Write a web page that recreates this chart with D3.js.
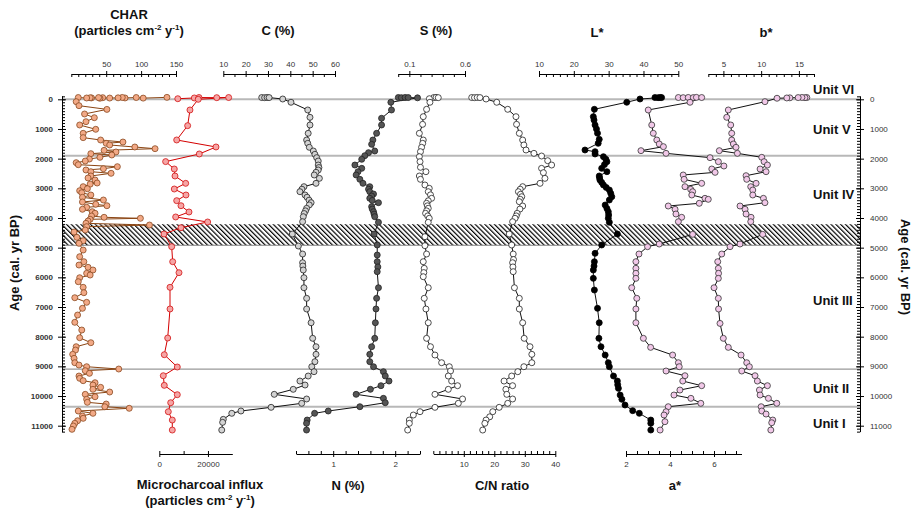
<!DOCTYPE html>
<html lang="en">
<head>
<meta charset="utf-8">
<title>Core proxies vs age</title>
<script src="https://d3js.org/d3.v7.min.js"></script>
<style>
body { margin: 0; background: #fff; }
svg { font-family: "Liberation Sans", Arial, sans-serif; }
.title { font-size: 13px; font-weight: bold; fill: #111; }
.tick text { font-size: 8px; fill: #333; font-family: "Liberation Sans", Arial, sans-serif; }
.unit { font-size: 13px; font-weight: bold; fill: #111; }
</style>
</head>
<body>
<svg width="920" height="519"></svg>
<script>
// [age (cal. yr BP), value]
const charData = [[-65,137],[-40,103],[-60,93],[-45,77],[-62,73],[-50,67],[-42,55],[-55,45],[-35,41],[-58,39],[-48,29],[-52,27],[-44,22],[-60,10],
  [80,7],[215,11],[340,51],[495,19],[620,33],[755,21],[866,12],[1011,35],[1146,17],[1292,17],[1372,42],[1440,74],[1484,50],[1540,55],[1608,91],[1664,120],
  [1720,47],[1775,64],[1832,28],[1877,58],[1956,41],[2013,26],[2080,20],[2136,7],[2204,10],[2271,66],[2339,46],[2383,21],[2440,28],[2494,57],[2585,28],
  [2652,24],[2720,34],[2821,37],[2860,27],[2945,17],[3013,23],[3080,12],[3148,15],[3225,28],[3303,16],[3394,46],[3461,16],[3539,35],[3586,51],[3640,22],
  [3707,16],[3788,30],[3842,34],[3933,29],[3977,47],[4011,99],[4044,27],[4102,24],[4180,21],[4237,112],[4293,22],[4405,20],[4473,4],[4652,8],[4765,17],
  [4854,11],[5080,17],[5305,12],[5473,18],[5585,11],[5662,24],[5753,31],[5865,22],[5922,27],[6013,12],[6147,10],[6336,17],[6518,18],[6687,5],[6842,22],
  [7044,16],[7270,9],[7516,5],[7776,15],[8035,12],[8203,28],[8338,7],[8450,6],[8595,2],[8730,4],[8877,5],[8956,11],[9012,22],[9090,68],[9147,20],
  [9235,26],[9326,11],[9404,12],[9483,17],[9551,34],[9629,31],[9707,42],[9774,31],[9865,55],[9943,20],[10024,34],[10111,22],[10212,23],[10270,50],
  [10360,48],[10414,83],[10505,10],[10583,31],[10674,16],[10752,17],[10833,9],[10920,5],[11010,3],[11122,1]];

const microData = [[-20,7600],[-45,14400],[-60,16300],[-55,23600],[-60,28500],[0,16000],[360,12600],[888,11650],[1371,7150],[1607,23300],[1843,16430],
  [2100,2600],[2349,6160],[2585,6450],[2832,10840],[3023,6160],[3225,10960],[3416,7150],[3586,8910],[3798,12200],[3966,6730],[4135,19870],[4327,8910],
  [4540,1930],[4967,5090],[5473,5500],[5843,8090],[6336,4400],[7067,4400],[8045,3450],[8607,2050],[9022,7400],[9316,1640],[9640,2050],[9955,7400],
  [10225,4680],[10528,3700],[10809,5340],[11146,5340]];

const cData = [[-60,27.2],[-55,28.5],[-62,29.6],[-58,30.5],[-10,36.6],[100,40.3],[360,47.8],[607,48.8],[866,48.8],[1146,48],[1372,47.3],[1484,47.8],
  [1618,48.5],[1742,50.3],[1854,51],[1967,51.8],[2080,52.5],[2215,52.5],[2300,52.8],[2383,52.5],[2460,51.5],[2551,50.7],[2664,53],[2832,51.5],[2945,46.1],
  [3030,45.2],[3114,44.3],[3225,46.6],[3300,47.5],[3400,48.4],[3484,49.3],[3560,48.5],[3674,47.3],[3760,46.8],[3850,46.2],[3956,45.8],[4125,45.5],
  [4540,40.9],[4944,43.6],[5214,45.5],[5507,45.5],[5620,45.6],[5753,45.8],[6013,46.1],[6350,46.1],[6707,47.3],[7067,47.3],[7530,49.3],[8055,50],
  [8338,51.5],[8595,51.5],[8843,51],[9012,49.6],[9180,50.6],[9326,48],[9495,44.3],[9629,46.6],[9774,41.3],[9943,32.8],[10100,47.3],[10246,45.1],
  [10381,31.4],[10505,17.9],[10583,13.8],[10786,10],[10887,9.7],[11146,9.3]];

const nData = [[-60,2.05],[-55,2.1],[-62,2.16],[-58,2.21],[-50,2.36],[100,1.93],[360,1.94],[640,1.78],[866,1.78],[1146,1.70],[1372,1.64],[1517,1.62],
  [1742,1.67],[1798,1.57],[1900,1.51],[2022,1.46],[2215,1.35],[2327,1.46],[2440,1.40],[2551,1.37],[2697,1.43],[2832,1.48],[2945,1.59],[3030,1.57],
  [3114,1.59],[3192,1.65],[3260,1.62],[3337,1.59],[3410,1.63],[3484,1.73],[3619,1.62],[3700,1.63],[3788,1.65],[3870,1.66],[3956,1.67],[4146,1.73],
  [4540,1.66],[4910,1.71],[5248,1.71],[5473,1.71],[5650,1.72],[5810,1.71],[6350,1.73],[6707,1.70],[7067,1.69],[7530,1.68],[8055,1.67],[8338,1.62],
  [8595,1.59],[8843,1.59],[9012,1.65],[9180,1.81],[9326,1.84],[9495,1.90],[9652,1.77],[9774,1.60],[9943,1.37],[10078,1.81],[10225,1.84],[10360,1.43],
  [10505,0.92],[10583,0.70],[10809,0.58],[10920,0.57],[11146,0.57]];

const sData = [[-60,0.32],[-65,0.34],[-55,0.36],[-20,0.28],[100,0.285],[337,0.255],[585,0.225],[843,0.219],[1146,0.19],[1372,0.225],[1484,0.22],
  [1618,0.21],[1765,0.2],[1934,0.19],[2102,0.196],[2292,0.2],[2440,0.249],[2585,0.19],[2697,0.2],[2888,0.24],[3000,0.279],[3114,0.27],[3220,0.29],
  [3337,0.30],[3420,0.27],[3505,0.255],[3590,0.262],[3674,0.27],[3760,0.255],[3842,0.246],[3930,0.265],[4011,0.279],[4146,0.27],[4630,0.24],[4933,0.24],
  [5214,0.255],[5473,0.225],[5696,0.234],[5840,0.23],[5979,0.225],[6350,0.27],[6707,0.234],[7067,0.249],[7530,0.27],[8055,0.255],[8338,0.29],[8618,0.33],
  [8877,0.39],[9012,0.459],[9157,0.47],[9326,0.45],[9495,0.48],[9652,0.533],[9774,0.45],[9943,0.33],[10100,0.578],[10246,0.54],[10381,0.33],
  [10528,0.196],[10640,0.136],[10809,0.1],[10920,0.1],[11146,0.085]];

const cnData = [[-60,12.6],[-55,13.5],[-62,14.4],[-58,15.3],[-10,17.3],[100,20.8],[337,24.4],[585,27.1],[843,27.3],[1146,28.2],[1372,29.3],[1540,29.7],
  [1709,30.4],[1821,33],[1911,35.5],[2069,37.5],[2215,38.8],[2327,35.5],[2473,36.1],[2664,36.6],[2832,35],[2945,29.3],[3030,28.5],[3114,27.9],[3200,28.6],
  [3283,29],[3370,28.5],[3451,28.2],[3596,29.3],[3700,28.4],[3842,27.5],[3930,27.2],[4011,26.8],[4125,26],[4540,24.9],[4910,25.7],[5214,26.2],[5400,26.3],
  [5507,26],[5650,26.1],[5810,26.2],[6350,26.6],[6707,28.2],[7067,28.2],[7530,29.3],[8055,29.8],[8338,31.7],[8595,32.3],[8877,32.3],[9012,29.7],[9180,27.7],
  [9326,25.7],[9495,23.2],[9652,26],[9774,23.8],[9943,24.1],[10100,26],[10246,24.4],[10381,21.6],[10528,19.5],[10700,18.5],[10809,17.3],[10920,16.9],[11146,16.2]];

const lData = [[-60,43.3],[-55,44.2],[-62,44.8],[-58,45.2],[-10,39],[100,35.2],[337,25.9],[585,25.6],[700,25.8],[866,26.1],[1000,26.5],[1146,26.8],[1350,27.3],
  [1484,27],[1709,23.2],[1765,26.1],[1843,26.1],[1934,28.5],[2020,29.2],[2102,29.5],[2200,28.8],[2327,28],[2440,29.5],[2585,27.3],[2650,27.4],[2720,27.5],
  [2800,28],[2888,28.5],[2970,29.3],[3057,30.2],[3170,30.6],[3283,30.9],[3394,30.2],[3563,29],[3680,29.5],[3788,29.9],[3900,30],[4011,29.9],[4146,30.2],
  [4540,32.5],[4910,28],[5191,26.1],[5473,25.9],[5620,25.8],[5753,25.6],[6034,25.6],[6427,25.9],[7044,26.8],[7530,27.3],[8055,27.2],[8338,27.8],
  [8618,29],[8877,29.9],[9012,30.2],[9326,31.4],[9495,32.5],[9620,32.6],[9741,32.8],[9966,33.3],[10111,33.8],[10303,34.7],[10494,36.9],[10583,38.8],
  [10809,42.1],[10920,42.1],[11146,42.1]];

const aData = [[-60,4.38],[-55,4.6],[-62,4.83],[-58,5.06],[-65,5.2],[-60,5.44],[100,4.91],[360,3.01],[866,3.17],[1146,3.24],[1372,3.4],[1506,3.51],
  [1596,3.7],[1731,2.68],[1821,3.82],[1967,5.82],[2102,6.2],[2248,6.45],[2349,5.9],[2462,6.05],[2551,4.6],[2697,4.64],[2832,5.44],[2945,4.68],
  [3034,4.94],[3114,5.03],[3225,4.99],[3337,5.59],[3371,5.74],[3505,5.33],[3596,3.92],[3707,4.23],[3866,4.27],[3977,4.53],[4125,4.38],[4551,5.03],
  [4877,3.51],[4967,2.98],[5214,2.59],[5473,2.45],[5696,2.45],[5865,2.45],[6034,2.45],[6350,2.26],[6707,2.49],[7067,2.45],[7530,2.45],[8055,2.79],
  [8360,3.12],[8618,4.12],[8877,4.38],[9012,4.42],[9157,3.82],[9316,4.68],[9495,4.58],[9652,5.44],[9798,4.45],[9966,4.18],[10078,4.95],[10246,5.4],
  [10360,3.92],[10528,3.82],[10640,3.73],[10865,3.77],[11146,3.55]];

const bData = [[-60,16.05],[-55,15.8],[-62,15.4],[-58,14.9],[-50,13.8],[-45,13.4],[-35,12.1],[80,10.5],[360,5.65],[607,5.44],[866,5.97],[1146,6.1],
  [1372,6.1],[1506,6.32],[1618,6.67],[1731,4.46],[1821,6.85],[1956,10.08],[2102,10.39],[2215,10.83],[2349,9.86],[2440,10.65],[2574,8],[2697,8.09],
  [2832,9.33],[2945,8.62],[3057,8.89],[3225,8.89],[3337,10.3],[3484,10.5],[3596,7.2],[3707,7.87],[3866,8],[3977,8.66],[4125,8.62],[4551,10.2],
  [4877,7.2],[4967,5.88],[5214,4.78],[5473,4.25],[5696,4.33],[5865,4.36],[6034,4.33],[6350,3.76],[6707,4.33],[7067,4.36],[7553,4.55],[8055,4.99],
  [8360,5.65],[8618,7.34],[8877,8.09],[9012,8.44],[9157,7.43],[9316,9.19],[9495,9.5],[9652,10.83],[9798,9.77],[9966,9.86],[10078,10.96],[10246,12.07],
  [10360,10],[10505,10.08],[10607,10.65],[10809,11.54],[10900,11.4],[11146,11.28]];

const ageTicks = [0,1000,2000,3000,4000,5000,6000,7000,8000,9000,10000,11000];
const unitBounds = [0, 1900, 9090, 10360];
const hatchBand = [4210, 4920];
const units = [["Unit VI", 0], ["Unit V", 1000], ["Unit IV", 3200], ["Unit III", 6750], ["Unit II", 9720], ["Unit I", 10920]];

const svg = d3.select("svg");

const y = d3.scaleLinear().domain([0, 11000]).range([99.3, 425.7]);
const yAx = d3.scaleLinear().domain([-120, 11200]).range([y(-120), y(11200)]);
const xLeft = 62, xRight = 860;
const topY = 74, botY = 454;

const xChar = d3.scaleLinear().domain([0, 150]).range([71.3, 176]);
const xMicro = d3.scaleLinear().domain([0, 30000]).range([159.3, 232.3]);
const xC = d3.scaleLinear().domain([10, 60]).range([223.3, 335]);
const xN = d3.scaleLinear().domain([0.4, 2.4]).range([296, 420]);
const xS = d3.scaleLinear().domain([0, 0.6]).range([398.2, 465]);
const xCN = d3.scaleLinear().domain([0, 40]).range([433.3, 555.3]);
const xL = d3.scaleLinear().domain([10, 50]).range([539, 678.3]);
const xA = d3.scaleLinear().domain([2, 7.25]).range([626, 741.5]);
const xB = d3.scaleLinear().domain([3, 17]).range([708.3, 814]);

// hatch pattern
const defs = svg.append("defs");
defs.append("pattern")
  .attr("id", "hatch")
  .attr("patternUnits", "userSpaceOnUse")
  .attr("width", 3.4).attr("height", 3.4)
  .attr("patternTransform", "rotate(-45)")
  .append("line")
  .attr("x1", 0.6).attr("y1", 0).attr("x2", 0.6).attr("y2", 3.4)
  .attr("stroke", "#000").attr("stroke-width", 1.2);

// unit boundaries
svg.selectAll("line.bound")
  .data(unitBounds)
  .enter().append("line")
  .attr("class", "bound")
  .attr("x1", xLeft).attr("x2", xRight)
  .attr("y1", d => y(d)).attr("y2", d => y(d))
  .attr("stroke", d => d === 9090 ? "#999" : "#b8b8b8")
  .attr("stroke-width", d => d === 9090 ? 1.2 : 2);

svg.append("rect")
  .attr("x", xLeft).attr("width", xRight - xLeft)
  .attr("y", y(hatchBand[0])).attr("height", y(hatchBand[1]) - y(hatchBand[0]))
  .attr("fill", "url(#hatch)");
svg.append("line")
  .attr("x1", xLeft).attr("x2", xRight)
  .attr("y1", y(hatchBand[1])).attr("y2", y(hatchBand[1]))
  .attr("stroke", "#888").attr("stroke-width", 1);

// age axes
const ageFmt = d3.format("d");
const minorAges = d3.range(-100, 11201, 100);
svg.append("g").attr("transform", `translate(${xLeft},0)`)
  .call(d3.axisLeft(yAx).tickValues(minorAges).tickSize(-3).tickSizeOuter(0).tickFormat(""));
svg.append("g").attr("transform", `translate(${xLeft},0)`)
  .call(d3.axisLeft(y).tickValues(ageTicks).tickSize(-4).tickFormat(""))
  .select(".domain").remove();
svg.append("g").attr("transform", `translate(${xLeft},0)`)
  .call(d3.axisLeft(y).tickValues(ageTicks).tickSize(4).tickPadding(5).tickFormat(ageFmt))
  .call(g => g.select(".domain").remove())
  .selectAll("text").attr("font-weight", "bold");

svg.append("g").attr("transform", `translate(${xRight},0)`)
  .call(d3.axisRight(yAx).tickValues(minorAges).tickSize(-3).tickSizeOuter(0).tickFormat(""));
svg.append("g").attr("transform", `translate(${xRight},0)`)
  .call(d3.axisRight(y).tickValues(ageTicks).tickSize(-4).tickFormat(""))
  .select(".domain").remove();
svg.append("g").attr("transform", `translate(${xRight},0)`)
  .call(d3.axisRight(y).tickValues(ageTicks).tickSize(4).tickPadding(6).tickFormat(ageFmt))
  .select(".domain").remove();

// proxy axes
function proxyAxis(scale, side, majors, minors, fmt) {
  const make = side === "top" ? d3.axisTop : d3.axisBottom;
  const yPos = side === "top" ? topY : botY;
  svg.append("g").attr("transform", `translate(0,${yPos})`)
    .call(make(scale).tickValues(minors).tickSize(-3).tickFormat(""))
    .select(".domain").remove();
  svg.append("g").attr("transform", `translate(0,${yPos})`)
    .call(make(scale).tickValues(majors).tickSize(-3).tickFormat(""))
    .select(".domain").remove();
  svg.append("g").attr("transform", `translate(0,${yPos})`)
    .call(make(scale).tickValues(majors).tickSizeInner(3).tickSizeOuter(0).tickPadding(4).tickFormat(fmt || d3.format("d")));
}

proxyAxis(xChar, "top", [50, 100, 150], [0, 10, 20, 30, 40, 60, 70, 80, 90, 110, 120, 130, 140]);
proxyAxis(xC, "top", [10, 20, 30, 40, 50, 60], [15, 25, 35, 45, 55]);
proxyAxis(xS, "top", [0.1, 0.6], [0, 0.2, 0.3, 0.4, 0.5], d3.format(".1f"));
proxyAxis(xL, "top", [10, 20, 30, 40, 50], [12, 14, 16, 18, 22, 24, 26, 28, 32, 34, 36, 38, 42, 44, 46, 48]);
proxyAxis(xB, "top", [5, 10, 15], [3, 4, 6, 7, 8, 9, 11, 12, 13, 14, 16, 17]);

proxyAxis(xMicro, "bottom", [0, 20000], [10000]);
proxyAxis(xN, "bottom", [1, 2], [0.4, 0.6, 0.8, 1.2, 1.4, 1.6, 1.8, 2.2, 2.4]);
proxyAxis(xCN, "bottom", [10, 20, 30, 40], [0, 2, 4, 6, 8, 12, 14, 16, 18, 22, 24, 26, 28, 32, 34, 36, 38]);
proxyAxis(xA, "bottom", [2, 4, 6], [2.5, 3, 3.5, 4.5, 5, 5.5, 6.5, 7]);

// series
function series(data, xs, fill, stroke, lineColor) {
  const g = svg.append("g");
  g.append("path")
    .datum(data)
    .attr("fill", "none")
    .attr("stroke", lineColor)
    .attr("stroke-width", 1)
    .attr("d", d3.line().x(d => xs(d[1])).y(d => y(d[0])));
  g.selectAll("circle")
    .data(data)
    .enter().append("circle")
    .attr("cx", d => xs(d[1]))
    .attr("cy", d => y(d[0]))
    .attr("r", 3)
    .attr("fill", fill)
    .attr("stroke", stroke)
    .attr("stroke-width", 0.8);
}

series(charData, xChar, "#f2a986", "#8a4a22", "#8b4513");
series(microData, xMicro, "#f6a5a5", "#d21414", "#d40000");
series(cData, xC, "#d3d3d3", "#222", "#111");
series(nData, xN, "#555", "#222", "#111");
series(sData, xS, "#fff", "#222", "#111");
series(cnData, xCN, "#fff", "#222", "#111");
series(lData, xL, "#000", "#000", "#111");
series(aData, xA, "#f1c8e8", "#333", "#111");
series(bData, xB, "#f1c8e8", "#333", "#111");

// titles
function supTitle(x, yb, main) {
  const t = svg.append("text").attr("class", "title").attr("x", x).attr("y", yb).attr("text-anchor", "middle");
  t.append("tspan").text("(particles cm");
  t.append("tspan").attr("dy", -5).attr("font-size", 8).text("-2");
  t.append("tspan").attr("dy", 5).text(" y");
  t.append("tspan").attr("dy", -5).attr("font-size", 8).text("-1");
  t.append("tspan").attr("dy", 5).text(")");
  svg.append("text").attr("class", "title").attr("x", x).attr("y", yb - 16).attr("text-anchor", "middle").text(main);
}
supTitle(129, 35, "CHAR");
supTitle(200, 505, "Microcharcoal influx");

const topTitles = [["C (%)", 278, 35], ["S (%)", 436, 35], ["L*", 597, 37], ["b*", 766, 37],
                   ["N (%)", 348, 490], ["C/N ratio", 502, 490], ["a*", 675, 490]];
svg.selectAll("text.ptitle")
  .data(topTitles)
  .enter().append("text")
  .attr("class", "title")
  .attr("x", d => d[1]).attr("y", d => d[2])
  .attr("text-anchor", "middle")
  .text(d => d[0]);

svg.append("text").attr("class", "title")
  .attr("transform", "translate(19,263) rotate(-90)")
  .attr("text-anchor", "middle")
  .text("Age (cal. yr BP)");
svg.append("text").attr("class", "title")
  .attr("transform", "translate(901,267) rotate(90)")
  .attr("text-anchor", "middle")
  .text("Age (cal. yr BP)");

svg.selectAll("text.unit")
  .data(units)
  .enter().append("text")
  .attr("class", "unit")
  .attr("x", 813)
  .attr("y", d => y(d[1]) - (d[1] === 0 ? 5 : -5))
  .text(d => d[0]);
</script>
</body>
</html>
